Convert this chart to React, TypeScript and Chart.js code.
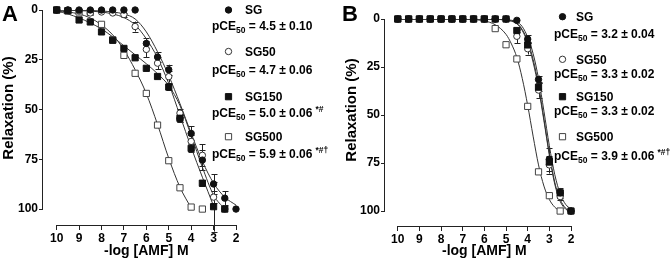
import React, { useEffect, useRef } from 'react';
import { Chart, registerables } from 'chart.js';
Chart.register(...registerables);

const FONT = '"Liberation Sans", Arial, Helvetica, sans-serif';

// ---------- shared ----------
const doses = [10, 9.5, 9, 8.5, 8, 7.5, 7, 6.5, 6, 5.5, 5, 4.5, 4, 3.5, 3, 2.5, 2];
const xTickValues = [10, 9, 8, 7, 6, 5, 4, 3, 2];
const yTickValues = [0, 25, 50, 75, 100];
const seriesNames = ['SG', 'SG50', 'SG150', 'SG500'];

// ---------- panel A data ----------
const aSG = [0, 0, 0, 0, 0, 0, 0, 0, 16.8, 23.6, 30, 54.5, 62, 75.4, 87.4, 94.5, 100];
const aSGErr = [0, 0, 0, 0, 0, 0, 0, 0, 2.5, 2.5, 2.5, 2, 3.5, 5, 5, 3.5, 0];
const aSG50 = [0, 0, 0.5, 1.5, 1, 1.5, 2.3, 8.3, 19.8, 26.7, 33.5, 51.8, 66, 73, 94, 100, null];
const aSG50Err = [0, 0, 0, 0, 0, 0, 1, 2.5, 4, 3, 3, 2, 3, 5.5, 3, 0, 0];
const aSG150 = [0, 0.3, 5, 6, 11, 15.2, 19.3, 24, 29.3, 33.4, 38.7, 54.4, 69.5, 87, 98.8, 100, null];
const aSG150Err = [0, 0, 0, 0, 0, 0, 0, 0, 0, 0, 1.5, 2, 2, 1.5, 12.5, 0, 0];
const aSG500 = [0, 0.5, 1, 1.2, 7.2, 15, 22.8, 31.8, 41.9, 57.8, 75.7, 89.3, 99, 100, null, null, null];
const aSG500Err = [0, 0, 0, 0, 0, 0, 0, 0, 0, 0, 0, 0, 0, 0, 0, 0, 0];

// fitted curves, panel A
const aCurveSGx = [10, 9, 8, 7.5, 7, 6.5, 6, 5.5, 5, 4.5, 4, 3.5, 3, 2.5, 2];
const aCurveSGy = [0, 0.1, 0.5, 1, 2, 4.5, 11, 21, 33, 47, 62, 76, 87, 94, 98];
const aCurveSG50x = [10, 9, 8, 7.5, 7, 6.5, 6, 5.5, 5, 4.5, 4, 3.5, 3, 2.95];
const aCurveSG50y = [0, 0.3, 1, 2, 3.8, 7.5, 14.5, 24, 37, 53, 69, 84, 98.5, 100];
const aCurveSG150x = [10, 9.5, 9, 8.5, 8, 7.5, 7, 6.5, 6, 5.5, 5, 4.5, 4, 3.5, 3, 2.5];
const aCurveSG150y = [0.5, 2, 4, 6.5, 9.5, 13.5, 18, 22.5, 27, 32, 38, 48, 63, 79, 93, 100];
const aCurveSG500x = [10, 9.5, 9, 8.5, 8, 7.5, 7, 6.5, 6, 5.5, 5, 4.5, 4];
const aCurveSG500y = [0.5, 1, 2, 4, 7.5, 12.5, 20, 30, 42, 57.5, 74.5, 89, 99.5];

const aPce = ['4.5 ± 0.10', '4.7 ± 0.06', '5.0 ± 0.06', '5.9 ± 0.06'];
const aMarks = ['', '', '*#', '*#†'];

// ---------- panel B data ----------
const bSG = [0, 0, 0, 0, 0, 0, 0, 0, 0, 0, 0, 0.7, 10.5, 31.5, 73, 90.5, 100];
const bSGErr = [0, 0, 0, 0, 0, 0, 0, 0, 0, 0, 0, 0, 2, 2, 6, 2.5, 0];
const bSG50 = [0, 0, 0, 0, 0, 0, 0, 0, 0, 0, 0, 9, 15.5, 37, 76, 92.5, 100];
const bSG50Err = [0, 0, 0, 0, 0, 0, 0, 0, 0, 0, 0, 3.5, 3, 4, 4.5, 2, 0];
const bSG150 = [0, 0, 0, 0, 0, 0, 0, 0, 0, 0, 0, 6, 13.5, 35.5, 74.5, 90.5, 100];
const bSG150Err = [0, 0, 0, 0, 0, 0, 0, 0, 0, 0, 0, 1, 1.5, 2, 2, 1.5, 0];
const bSG500 = [0, 0, 0, 0, 0, 0, 0, 0, 0, 5, 13.4, 20.8, 45.5, 79.6, 92, 100, null];
const bSG500Err = [0, 0, 0, 0, 0, 0, 0, 0, 0, 0, 0, 0, 0, 0, 0, 0, 0];

const bCurveSGx = [10, 6, 5.5, 5, 4.5, 4.25, 4, 3.75, 3.5, 3.25, 3, 2.75, 2.5, 2.25, 2];
const bCurveSGy = [0, 0, 0.1, 0.4, 1.5, 4, 9.5, 18, 31, 48, 66, 81, 91, 96.5, 99];
const bCurveSG50x = [10, 6, 5.5, 5, 4.5, 4.25, 4, 3.75, 3.5, 3.25, 3, 2.75, 2.5, 2.25, 2.1];
const bCurveSG50y = [0, 0, 0.2, 0.6, 2.5, 6, 12.5, 22.5, 36, 53, 71, 86, 95, 99, 100];
const bCurveSG150x = [10, 6, 5.5, 5, 4.5, 4.25, 4, 3.75, 3.5, 3.25, 3, 2.75, 2.5, 2.25, 2.1];
const bCurveSG150y = [0, 0, 0.2, 0.5, 2.2, 5.5, 11.5, 21, 34.5, 52, 70, 85, 94, 98.5, 100];
const bCurveSG500x = [10, 7, 6.5, 6, 5.5, 5, 4.75, 4.5, 4.25, 4, 3.75, 3.5, 3.25, 3, 2.75, 2.5];
const bCurveSG500y = [0, 0, 0.3, 1, 3, 8, 13, 20, 31, 45, 61, 76, 87, 94, 98, 100];

const bPce = ['3.2 ± 0.04', '3.3 ± 0.02', '3.3 ± 0.02', '3.9 ± 0.06'];
const bMarks = ['', '', '', '*#†'];

// ---------- styles ----------
const markerStyles = [
  { pointStyle: 'circle', radius: 3.2, fill: '#111', stroke: '#111', order: 2 },
  { pointStyle: 'circle', radius: 3.2, fill: '#fff', stroke: '#333', order: 3 },
  { pointStyle: 'rect', radius: 4.4, fill: '#111', stroke: '#111', order: 1 },
  { pointStyle: 'rect', radius: 4.4, fill: '#fff', stroke: '#444', order: 4 },
];

type PanelCfg = {
  letter: string;
  left: number;
  width: number;
  padTop: number;
  padRight: number;
  yWidth: number;
  xHeight: number;
  xMax: number;
  yMax: number;
  values: (number | null)[][];
  errors: number[][];
  curvesX: number[][];
  curvesY: number[][];
  pce: string[];
  marks: string[];
  legend: { markerX: number; nameX: number; nameY: number[]; pceX: number; pceY: number[] };
  yTitleX: number;
  yTitleY: number;
};

const panels: PanelCfg[] = [
  {
    letter: 'A', left: 0, width: 340, padTop: 10, padRight: 104, yWidth: 43, xHeight: 44,
    xMax: 10.61, yMax: 108,
    values: [aSG, aSG50, aSG150, aSG500],
    errors: [aSGErr, aSG50Err, aSG150Err, aSG500Err],
    curvesX: [aCurveSGx, aCurveSG50x, aCurveSG150x, aCurveSG500x],
    curvesY: [aCurveSGy, aCurveSG50y, aCurveSG150y, aCurveSG500y],
    pce: aPce, marks: aMarks,
    legend: { markerX: 228.5, nameX: 245, nameY: [10, 51.5, 96.7, 136.7], pceX: 212, pceY: [26, 70, 112.5, 153.5] },
    yTitleX: 9, yTitleY: 108,
  },
  {
    letter: 'B', left: 340, width: 331, padTop: 19, padRight: 100, yWidth: 45, xHeight: 43,
    xMax: 10.59, yMax: 107.8,
    values: [bSG, bSG50, bSG150, bSG500],
    errors: [bSGErr, bSG50Err, bSG150Err, bSG500Err],
    curvesX: [bCurveSGx, bCurveSG50x, bCurveSG150x, bCurveSG500x],
    curvesY: [bCurveSGy, bCurveSG50y, bCurveSG150y, bCurveSG500y],
    pce: bPce, marks: bMarks,
    legend: { markerX: 222.5, nameX: 236, nameY: [16.7, 59.3, 96.7, 136.7], pceX: 214, pceY: [33.3, 74, 111, 156] },
    yTitleX: 11.5, yTitleY: 110,
  },
];

function drawMarker(ctx: CanvasRenderingContext2D, idx: number, x: number, y: number) {
  const m = markerStyles[idx];
  ctx.save();
  ctx.fillStyle = m.fill;
  ctx.strokeStyle = m.stroke;
  ctx.lineWidth = 1;
  ctx.beginPath();
  if (m.pointStyle === 'circle') {
    ctx.arc(x, y, m.radius, 0, Math.PI * 2);
  } else {
    const s = m.radius * Math.SQRT1_2;
    ctx.rect(x - s, y - s, 2 * s, 2 * s);
  }
  ctx.fill();
  ctx.stroke();
  ctx.restore();
}

function makePlugin(cfg: PanelCfg) {
  return {
    id: 'prismDecor' + cfg.letter,
    beforeDatasetsDraw(chart: any) {
      const ctx: CanvasRenderingContext2D = chart.ctx;
      const xs = chart.scales.x;
      const ys = chart.scales.y;
      ctx.save();
      ctx.strokeStyle = '#222';
      ctx.lineWidth = 1;
      cfg.values.forEach((vals, si) => {
        vals.forEach((v, i) => {
          const e = cfg.errors[si][i];
          if (v == null || !e) return;
          const px = Math.round(xs.getPixelForValue(doses[i])) + 0.5;
          const y1 = ys.getPixelForValue(v - e);
          const y2 = ys.getPixelForValue(v + e);
          ctx.beginPath();
          ctx.moveTo(px, y1);
          ctx.lineTo(px, y2);
          ctx.moveTo(px - 3, Math.round(y1) + 0.5);
          ctx.lineTo(px + 3, Math.round(y1) + 0.5);
          ctx.moveTo(px - 3, Math.round(y2) + 0.5);
          ctx.lineTo(px + 3, Math.round(y2) + 0.5);
          ctx.stroke();
        });
      });
      ctx.restore();
    },
    afterDraw(chart: any) {
      const ctx: CanvasRenderingContext2D = chart.ctx;
      const xs = chart.scales.x;
      const ys = chart.scales.y;
      const area = chart.chartArea;
      ctx.save();
      // offset axis lines (Prism style)
      ctx.strokeStyle = '#222';
      ctx.lineWidth = 1;
      const ax = Math.round(area.left) - 0.5;
      const ay = Math.round(area.bottom) + 0.5;
      ctx.beginPath();
      ctx.moveTo(ax, ys.getPixelForValue(0));
      ctx.lineTo(ax, ys.getPixelForValue(100));
      ctx.moveTo(xs.getPixelForValue(10), ay);
      ctx.lineTo(xs.getPixelForValue(2), ay);
      ctx.stroke();

      ctx.fillStyle = '#000';
      // panel letter
      ctx.font = `bold 22px ${FONT}`;
      ctx.textAlign = 'left';
      ctx.textBaseline = 'alphabetic';
      ctx.fillText(cfg.letter, 2, 20.5);

      // x title
      ctx.font = `bold 14px ${FONT}`;
      ctx.textAlign = 'center';
      ctx.fillText('-log [AMF] M', xs.getPixelForValue(6), 255);

      // y title
      ctx.save();
      ctx.translate(cfg.yTitleX, cfg.yTitleY);
      ctx.rotate(-Math.PI / 2);
      ctx.font = `bold 15px ${FONT}`;
      ctx.textAlign = 'center';
      ctx.textBaseline = 'middle';
      ctx.fillText('Relaxation (%)', 0, 0);
      ctx.restore();

      // legend
      const L = cfg.legend;
      ctx.textAlign = 'left';
      ctx.textBaseline = 'alphabetic';
      seriesNames.forEach((name, i) => {
        drawMarker(ctx, i, L.markerX, L.nameY[i]);
        ctx.fillStyle = '#000';
        ctx.font = `bold 12px ${FONT}`;
        ctx.fillText(name, L.nameX, L.nameY[i] + 4.3);
        let x = L.pceX;
        const base = L.pceY[i] + 4.3;
        ctx.fillText('pCE', x, base);
        x += ctx.measureText('pCE').width;
        ctx.font = `bold 8.5px ${FONT}`;
        ctx.fillText('50', x, base + 3);
        x += ctx.measureText('50').width;
        ctx.font = `bold 12px ${FONT}`;
        const t = ' = ' + cfg.pce[i];
        ctx.fillText(t, x, base);
        x += ctx.measureText(t).width;
        if (cfg.marks[i]) {
          ctx.font = `bold 8.5px ${FONT}`;
          ctx.fillText(cfg.marks[i], x + 3, base - 5);
        }
      });
      ctx.restore();
    },
  };
}

function Panel({ cfg }: { cfg: PanelCfg }) {
  const ref = useRef<HTMLCanvasElement>(null);
  useEffect(() => {
    if (!ref.current) return;
    const pointSets = cfg.values.map((vals, si) => {
      const m = markerStyles[si];
      return {
        label: seriesNames[si],
        data: vals.map((v, i) => (v == null ? null : { x: doses[i], y: v })).filter((p) => p != null),
        showLine: false,
        pointStyle: m.pointStyle,
        pointRadius: m.radius,
        pointBackgroundColor: m.fill,
        pointBorderColor: m.stroke,
        pointBorderWidth: 1,
        order: m.order,
        clip: false,
      };
    });
    const curveSets = cfg.curvesX.map((xsArr, si) => ({
      label: seriesNames[si] + ' fit',
      data: xsArr.map((x, i) => ({ x, y: cfg.curvesY[si][i] })),
      showLine: true,
      pointRadius: 0,
      borderColor: '#333',
      borderWidth: 1,
      cubicInterpolationMode: 'monotone',
      fill: false,
      order: 10,
    }));
    const chart = new Chart(ref.current, {
      type: 'scatter',
      data: { datasets: [...pointSets, ...curveSets] as any },
      options: {
        animation: false,
        responsive: false,
        events: [],
        layout: { padding: { left: 0, top: cfg.padTop, right: cfg.padRight, bottom: 0 } },
        plugins: { legend: { display: false }, tooltip: { enabled: false } },
        scales: {
          x: {
            type: 'linear',
            reverse: true,
            min: 2,
            max: cfg.xMax,
            afterBuildTicks: (s: any) => {
              s.ticks = xTickValues.map((v) => ({ value: v }));
            },
            afterFit: (s: any) => {
              s.height = cfg.xHeight;
            },
            grid: { display: true, drawOnChartArea: false, drawTicks: true, tickLength: 5, color: '#222', lineWidth: 1 },
            border: { display: false },
            ticks: {
              font: { family: FONT, size: 12, weight: 'bold' },
              color: '#000',
              padding: 1,
              maxRotation: 0,
              autoSkip: false,
              callback: (v: any) => String(v),
            },
          },
          y: {
            type: 'linear',
            reverse: true,
            min: 0,
            max: cfg.yMax,
            afterBuildTicks: (s: any) => {
              s.ticks = yTickValues.map((v) => ({ value: v }));
            },
            afterFit: (s: any) => {
              s.width = cfg.yWidth;
            },
            grid: { display: true, drawOnChartArea: false, drawTicks: true, tickLength: 4, color: '#222', lineWidth: 1 },
            border: { display: false },
            ticks: {
              font: { family: FONT, size: 12, weight: 'bold' },
              color: '#000',
              padding: 1,
              autoSkip: false,
              callback: (v: any) => String(v),
            },
          },
        },
      } as any,
      plugins: [makePlugin(cfg)],
    });
    return () => chart.destroy();
  }, [cfg]);
  return (
    <canvas
      ref={ref}
      width={cfg.width}
      height={269}
      style={{ position: 'absolute', left: cfg.left, top: 0, width: cfg.width, height: 269 }}
    />
  );
}

export default function App() {
  return (
    <div style={{ position: 'absolute', left: 0, top: 0, width: 671, height: 269, background: '#fff', overflow: 'hidden' }}>
      {panels.map((p) => (
        <Panel key={p.letter} cfg={p} />
      ))}
    </div>
  );
}
